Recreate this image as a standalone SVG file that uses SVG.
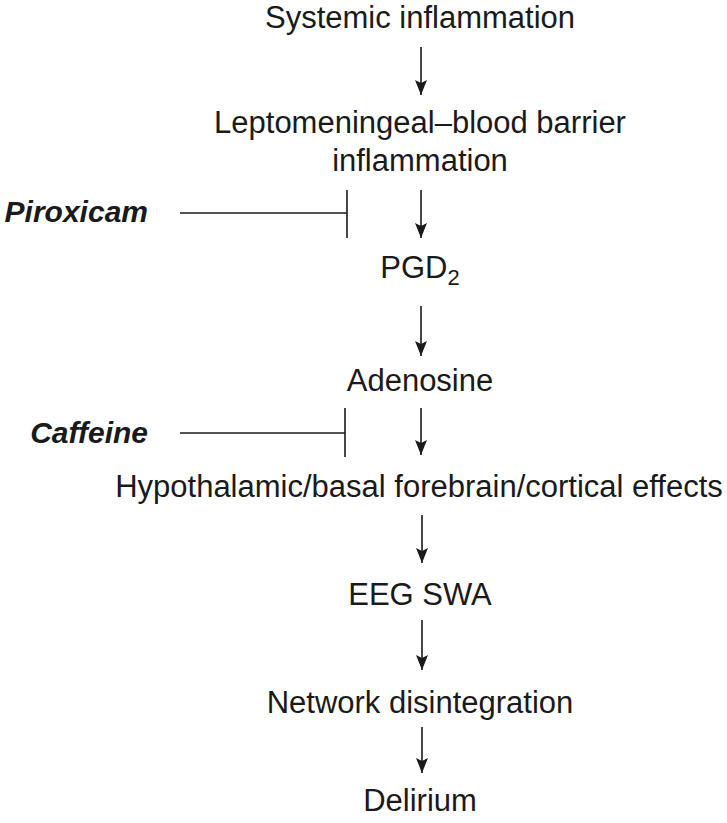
<svg xmlns="http://www.w3.org/2000/svg" width="727" height="823" viewBox="0 0 727 823">
<style>
.t{font-family:"Liberation Sans",Arial,sans-serif;font-size:31px;fill:#1a1a1a;text-anchor:middle}
.d{font-family:"Liberation Sans",Arial,sans-serif;font-size:30px;font-weight:bold;font-style:italic;fill:#1a1a1a;text-anchor:end}
.c line{stroke:#1a1a1a;stroke-width:1.6;fill:none}
</style>
<defs>
<marker id="ah" viewBox="0 0 15 12" refX="15" refY="6" markerWidth="15" markerHeight="12" markerUnits="userSpaceOnUse" orient="auto">
<path d="M0,0 L15,6 L0,12 L3,6 Z" fill="#1a1a1a"/>
</marker>
</defs>
<rect width="727" height="823" fill="#fff"/>
<g id="n1"><text class="t" x="420" y="28">Systemic inflammation</text></g>
<g id="n2"><text class="t" x="420" y="133">Leptomeningeal–blood barrier</text><text class="t" x="420" y="171">inflammation</text></g>
<g id="n3"><text class="t" x="420" y="278">PGD<tspan font-size="22" dy="7">2</tspan></text></g>
<g id="n4"><text class="t" x="420" y="391">Adenosine</text></g>
<g id="n5"><text class="t" x="419" y="497">Hypothalamic/basal forebrain/cortical effects</text></g>
<g id="n6"><text class="t" x="420" y="605">EEG SWA</text></g>
<g id="n7"><text class="t" x="420" y="713">Network disintegration</text></g>
<g id="n8"><text class="t" x="420" y="811">Delirium</text></g>
<g id="d1"><text class="d" x="148" y="222">Piroxicam</text></g>
<g id="d2"><text class="d" x="148" y="443">Caffeine</text></g>
<g class="c" id="connectors">
<line x1="421" y1="47" x2="421" y2="95" marker-end="url(#ah)"/>
<line x1="421" y1="190" x2="421" y2="238" marker-end="url(#ah)"/>
<line x1="421" y1="306" x2="421" y2="356" marker-end="url(#ah)"/>
<line x1="421" y1="408" x2="421" y2="455" marker-end="url(#ah)"/>
<line x1="422" y1="515" x2="422" y2="563" marker-end="url(#ah)"/>
<line x1="422" y1="620" x2="422" y2="670" marker-end="url(#ah)"/>
<line x1="422" y1="727" x2="422" y2="773" marker-end="url(#ah)"/>
<line x1="180" y1="213" x2="347" y2="213"/>
<line x1="347" y1="190" x2="347" y2="238"/>
<line x1="180" y1="433" x2="345" y2="433"/>
<line x1="345" y1="408" x2="345" y2="457"/>
</g>
</svg>
